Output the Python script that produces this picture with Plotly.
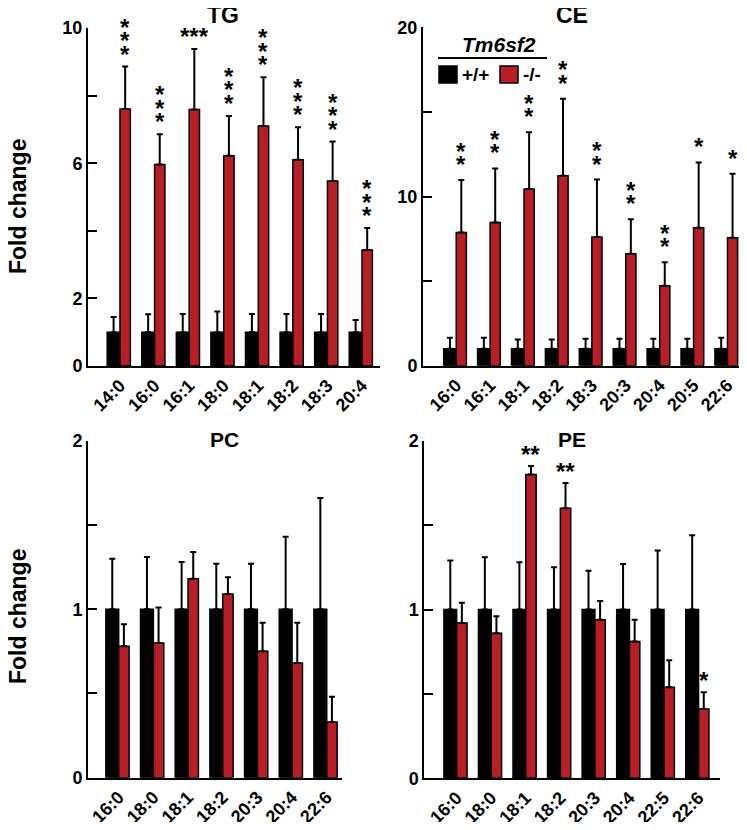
import plotly.graph_objects as go

# data (fold change vs +/+)
tg_cats = ["14:0", "16:0", "16:1", "18:0", "18:1", "18:2", "18:3", "20:4"]
tg_wt = [1.0, 1.0, 1.0, 1.0, 1.0, 1.0, 1.0, 1.0]
tg_wt_err = [0.45, 0.53, 0.54, 0.61, 0.54, 0.54, 0.54, 0.36]
tg_ko = [7.6, 5.96, 7.59, 6.22, 7.10, 6.10, 5.47, 3.43]
tg_ko_err = [1.26, 0.9, 1.79, 1.18, 1.44, 0.96, 1.17, 0.65]
tg_sig = ["***", "***", "***", "***", "***", "***", "***", "***"]
tg_stack = [True, True, False, True, True, True, True, True]

ce_cats = ["16:0", "16:1", "18:1", "18:2", "18:3", "20:3", "20:4", "20:5", "22:6"]
ce_wt = [1.0, 1.0, 1.0, 1.0, 1.0, 1.0, 1.0, 1.0, 1.0]
ce_wt_err = [0.65, 0.65, 0.55, 0.55, 0.6, 0.6, 0.6, 0.6, 0.65]
ce_ko = [7.87, 8.46, 10.44, 11.22, 7.6, 6.61, 4.72, 8.15, 7.56]
ce_ko_err = [3.1, 3.2, 3.35, 4.56, 3.4, 2.05, 1.4, 3.86, 3.78]
ce_sig = ["**", "**", "**", "**", "**", "**", "**", "*", "*"]
ce_stack = [True] * 9

pc_cats = ["16:0", "18:0", "18:1", "18:2", "20:3", "20:4", "22:6"]
pc_wt = [1.0, 1.0, 1.0, 1.0, 1.0, 1.0, 1.0]
pc_wt_err = [0.30, 0.31, 0.28, 0.27, 0.27, 0.43, 0.66]
pc_ko = [0.78, 0.80, 1.18, 1.09, 0.75, 0.68, 0.33]
pc_ko_err = [0.13, 0.21, 0.16, 0.10, 0.17, 0.24, 0.15]
pc_sig = ["", "", "", "", "", "", ""]
pc_stack = [False] * 7

pe_cats = ["16:0", "18:0", "18:1", "18:2", "20:3", "20:4", "22:5", "22:6"]
pe_wt = [1.0, 1.0, 1.0, 1.0, 1.0, 1.0, 1.0, 1.0]
pe_wt_err = [0.29, 0.31, 0.28, 0.25, 0.23, 0.27, 0.35, 0.44]
pe_ko = [0.92, 0.86, 1.80, 1.60, 0.94, 0.81, 0.54, 0.41]
pe_ko_err = [0.12, 0.10, 0.05, 0.15, 0.11, 0.13, 0.16, 0.10]
pe_sig = ["", "", "**", "**", "", "", "", "*"]
pe_stack = [False] * 8

# page body has an 8px margin, so the figure is 16px smaller than the window
OFF = 8
W, H = 747 - 2 * OFF, 830 - 2 * OFF
RED = "#B71E25"
FONT = "Liberation Sans"


def px(x):
    return min(1.0, max(0.0, (x - OFF) / W))


def py(y):
    return min(1.0, max(0.0, 1 - (y - OFF) / H))


fig = go.Figure()

# pixel boxes (page coords) of each panel: (left, right, bottom, top), x range, y max, ticks
panels = [
    ("TG", tg_cats, tg_wt, tg_wt_err, tg_ko, tg_ko_err, tg_sig, tg_stack,
     (88, 380, 366, 28), (-0.925, 7.52), 10, [0, 2, 4, 6, 8, 10], ["0", "2", "", "6", "", "10"]),
    ("CE", ce_cats, ce_wt, ce_wt_err, ce_ko, ce_ko_err, ce_sig, ce_stack,
     (423, 739, 365.7, 27.3), (-0.98, 8.34), 20, [0, 5, 10, 15, 20], ["0", "", "10", "", "20"]),
    ("PC", pc_cats, pc_wt, pc_wt_err, pc_ko, pc_ko_err, pc_sig, pc_stack,
     (88, 342, 777.7, 440.7), (-0.885, 6.44), 2, [0, 0.5, 1, 1.5, 2], ["0", "", "1", "", "2"]),
    ("PE", pe_cats, pe_wt, pe_wt_err, pe_ko, pe_ko_err, pe_sig, pe_stack,
     (424.3, 720, 778.3, 440.7), (-0.937, 7.62), 2, [0, 0.5, 1, 1.5, 2], ["0", "", "1", "", "2"]),
]
title_pos = [(223, 15), (572, 15), (224, 440), (572, 440)]
star_shift = [-3, 0, -4, -4]

annotations = []
for i, (name, cats, wt, wt_err, ko, ko_err, sig, stack, box, xr, ymax, tv, tt) in enumerate(panels):
    n = "" if i == 0 else str(i + 1)
    xa, ya = "x" + n, "y" + n
    left, right, bottom, top = box
    fig.add_trace(go.Bar(
        x=cats, y=wt, xaxis=xa, yaxis=ya, width=0.37, offset=-0.37,
        marker=dict(color="black", line=dict(color="black", width=1.5)),
        error_y=dict(type="data", symmetric=False, array=wt_err, arrayminus=[0] * len(wt),
                     color="black", thickness=2, width=3),
        showlegend=False))
    fig.add_trace(go.Bar(
        x=cats, y=ko, xaxis=xa, yaxis=ya, width=0.30, offset=0,
        marker=dict(color=RED, line=dict(color="black", width=1.5)),
        error_y=dict(type="data", symmetric=False, array=ko_err, arrayminus=[0] * len(ko),
                     color="black", thickness=2, width=3),
        showlegend=False))
    fig.update_layout({
        "xaxis" + n: dict(domain=[px(left), px(right)], range=list(xr), anchor=ya, automargin=False,
                          showline=True, linewidth=2, linecolor="black", ticks="",
                          tickangle=-45, showgrid=False, zeroline=False,
                          tickfont=dict(family=FONT, size=18, color="black", weight="bold")),
        "yaxis" + n: dict(domain=[py(bottom), py(top)], range=[0, ymax], anchor=xa,
                          automargin=False,
                          showline=True, linewidth=2, linecolor="black", ticks="inside",
                          ticklen=9, tickwidth=2, tickcolor="black", tickvals=tv, ticktext=tt,
                          showgrid=False, zeroline=False,
                          tickfont=dict(family=FONT, size=18, color="black", weight="bold")),
    })
    # panel title
    tx, ty = title_pos[i]
    annotations.append(dict(text=name, xref="paper", yref="paper", x=px(tx), y=py(ty),
                            showarrow=False, xanchor="center", yanchor="middle",
                            font=dict(family=FONT, size=23 if i < 2 else 21, color="black",
                                      weight="bold")))
    # significance stars above knockout error bars
    for j, s in enumerate(sig):
        if not s:
            continue
        y0 = ko[j] + ko_err[j]
        if stack[j]:
            for k in range(len(s)):
                annotations.append(dict(text="*", xref=xa, yref=ya, x=j + 0.15, y=y0,
                                        showarrow=False, xanchor="center", yanchor="bottom",
                                        yshift=star_shift[i] + 13.5 * k,
                                        font=dict(family=FONT, size=24, color="black", weight="bold")))
        else:
            annotations.append(dict(text=s, xref=xa, yref=ya, x=j + 0.15, y=y0,
                                    showarrow=False, xanchor="center", yanchor="bottom",
                                    yshift=star_shift[i],
                                    font=dict(family=FONT, size=24, color="black", weight="bold")))

# y axis titles
for yc in (207, 617):
    annotations.append(dict(text="Fold change", xref="paper", yref="paper", x=px(18), y=py(yc),
                            showarrow=False, textangle=-90, xanchor="center", yanchor="middle",
                            font=dict(family=FONT, size=23, color="black", weight="bold")))

# legend drawn inside CE panel
annotations.append(dict(text="<i>Tm6sf2</i>", xref="paper", yref="paper", x=px(499), y=py(44),
                        showarrow=False, xanchor="center", yanchor="middle",
                        font=dict(family=FONT, size=21, color="black", weight="bold")))
annotations.append(dict(text="+/+", xref="paper", yref="paper", x=px(460), y=py(75),
                        showarrow=False, xanchor="left", yanchor="middle",
                        font=dict(family=FONT, size=19, color="black", weight="bold")))
annotations.append(dict(text="-/-", xref="paper", yref="paper", x=px(521), y=py(75),
                        showarrow=False, xanchor="left", yanchor="middle",
                        font=dict(family=FONT, size=19, color="black", weight="bold")))
shapes = [
    dict(type="line", xref="paper", yref="paper", x0=px(438), x1=px(547), y0=py(58), y1=py(58),
         line=dict(color="black", width=2)),
    dict(type="rect", xref="paper", yref="paper", x0=px(439), x1=px(457), y0=py(83), y1=py(66),
         fillcolor="black", line=dict(color="black", width=1.5)),
    dict(type="rect", xref="paper", yref="paper", x0=px(500), x1=px(518), y0=py(83), y1=py(66),
         fillcolor=RED, line=dict(color="black", width=1.5)),
]

fig.update_layout(width=W, height=H, margin=dict(l=0, r=0, t=0, b=0),
                  plot_bgcolor="white", paper_bgcolor="white", barmode="overlay",
                  annotations=annotations, shapes=shapes)
fig.write_html("out.html")
